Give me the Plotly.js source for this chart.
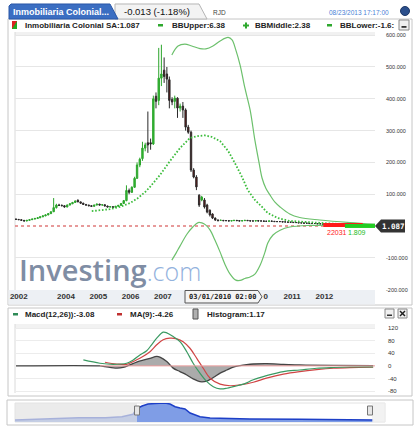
<!DOCTYPE html>
<html><head><meta charset="utf-8">
<script src="https://cdn.plot.ly/plotly-3.0.1.min.js"></script>
<style>html,body{margin:0;padding:0;background:#fff;}#chart{width:420px;height:430px;}</style>
</head><body><div id="chart"></div>
<script>
// ---------- DATA ----------
const startMonth = [2002, 6];
const open = [
 22,21,20,18,16,18,20,
 22,24,26,29,32,35,39,45,58,66,65,64,
 60,66,70,74,81,76,72,68,66,64,62,66,
 69,66,67,63,60,61,59,62,65,71,80,112,
 106,122,150,192,212,245,262,262,258,408,395,465,
 490,478,460,398,392,402,371,377,365,311,295,176,
 154,97,82,82,66,50,38,25,19,18,18,17,
 17,16,17,18,17,16,17,18,17,16,16,17,
 16,16,15,15,16,15,14,14,14,13,13,12,
 12,11,11,10,10,9,9,8,8,8,7,7,
 6,6,5,5,5,4,4,4,3,3,3,3,
 3,2,2,2,2,1.5,1.3,1.2];
const high = [
 23,22,21,19,19,21,23,
 25,27,30,33,36,40,46,88,70,70,68,65,
 68,72,76,80,84,77,73,69,67,65,67,70,
 70,68,68,64,62,62,63,66,72,82,128,118,
 125,155,200,215,265,262,360,275,410,420,560,570,
 530,500,470,405,410,405,385,390,370,318,300,182,
 160,100,95,88,70,52,40,27,21,20,19,19,
 18,18,19,19,18,18,19,19,18,17,18,18,
 17,17,16,17,16,15,15,15,14,14,13,13,
 12,12,11,11,10,10,9,9,9,8,8,7,
 7,6,6,6,5,5,5,4,4,4,4,4,
 3,3,3,2.5,2,1.8,1.5,1.3];
const low = [
 20,19,17,15,15,17,19,
 21,23,25,28,31,34,38,44,55,64,62,58,
 59,65,69,73,75,70,67,64,62,61,61,65,
 65,64,62,59,58,58,58,61,64,70,78,100,
 104,120,148,185,205,235,230,240,255,370,380,440,
 450,420,370,380,370,340,360,340,300,290,170,150,
 113,60,78,55,40,30,22,16,15,16,15,16,
 15,15,16,16,15,15,16,16,15,15,15,15,
 15,14,14,14,14,13,13,13,12,12,11,11,
 10,10,9,9,8,8,7,7,7,6,6,5,
 5,4,4,4,3,3,3,2,2,2,2,2,
 1.5,1.5,1.5,1.5,1.2,1.1,1.1,1.0];
const close = [
 21,20,18,16,18,20,22,
 24,26,29,32,35,39,45,58,66,65,64,60,
 66,70,74,79,76,72,68,66,64,62,66,69,
 66,67,63,60,61,59,62,65,71,80,112,106,
 122,150,192,210,245,255,255,258,400,392,465,478,
 470,462,395,390,402,371,377,365,311,295,176,154,
 123,66,91,60,44,35,25,19,17,18,17,17,
 16,17,18,17,16,17,18,17,16,16,17,16,
 16,15,15,16,15,14,14,14,13,13,12,12,
 11,11,10,10,9,9,8,8,8,7,7,6,
 6,5,5,5,4,4,4,3,3,3,3,3,
 2,2,2,2,1.5,1.3,1.2,1.087];

const bbMidX = ['2004-10-19','2005-01-19','2005-05-12','2005-09-02','2005-12-24','2006-03-25','2006-06-14','2006-08-08','2006-11-28','2007-03-21','2007-07-13','2007-11-03','2008-02-03','2008-04-20','2008-07-09','2008-10-09','2009-01-08','2009-03-25','2009-06-14','2009-08-18','2009-11-06','2010-01-26','2010-04-01','2010-07-24','2010-12-05','2011-05-27','2012-03-03','2013-07-27'];
const bbMid  = [47,50,53,60,72,88,107,123,160,204,245,277,283,285,280,267,236,198,154,113,82,60,41,25,16,13,8,2];

const bbUpX = ['2007-04-12','2007-06-21','2007-09-06','2007-11-24','2008-02-24','2008-05-01','2008-07-20','2008-10-09','2009-01-08','2009-02-21','2009-04-05','2009-05-23','2009-07-16','2009-09-13','2009-11-06','2009-12-24','2010-01-26','2010-03-10','2010-04-27','2010-06-21','2010-08-18','2010-12-05','2011-03-28','2011-11-10','2012-10-16','2013-07-27'];
const bbUp  = [538,566,572,566,558,557,566,582,593,585,553,506,434,365,270,198,151,119,97,75,60,38,27,19,11,6];

const bbLowX = ['2007-04-12','2007-05-30','2007-07-13','2007-10-01','2007-12-05','2008-02-03','2008-03-17','2008-05-01','2008-06-18','2008-08-11','2008-10-09','2008-12-01','2009-01-30','2009-04-05','2009-05-23','2009-07-16','2009-09-13','2009-11-06','2010-01-04','2010-02-28','2010-04-01','2010-05-30','2010-08-18','2010-12-05','2011-07-20','2013-07-27'];
const bbLow  = [-107,-85,-63,-25,-3,11,10,3,-13,-44,-82,-119,-151,-170,-171,-165,-160,-151,-123,-82,-53,-28,-13,-3,2,2];

const endRedX = ['2011-12-20','2013-03-10']; const endRedY = [3,3];
const endGreenX = ['2012-08-20','2013-07-26']; const endGreenY = [0.3,0.3];

const macdX = ['2004-07-16','2005-01-19','2005-06-18','2005-11-17','2006-01-30','2006-04-16','2006-07-02','2006-08-26','2006-10-23','2007-01-04','2007-02-14','2007-04-27','2007-07-13','2007-09-28','2007-12-09','2008-02-24','2008-05-12','2008-07-24','2008-10-09','2008-12-24','2009-03-07','2009-06-29','2009-10-19','2010-03-17','2010-09-24','2011-03-28','2011-10-05','2012-04-12','2012-10-16','2013-07-05'];
const macd  = [19,8.5,5,8.5,19,35,48,67,88,107,105,93,77,45,8.5,-23,-50,-66,-73,-71,-66,-58,-44,-31,-18,-13,-7.5,-5,-3.5,-3.08];

const maX = ['2005-03-17','2005-07-27','2005-11-17','2006-01-30','2006-04-16','2006-08-08','2006-10-23','2007-01-04','2007-03-21','2007-06-07','2007-08-18','2007-11-03','2008-01-19','2008-04-01','2008-06-18','2008-10-09','2009-01-30','2009-05-23','2009-10-19','2010-03-17','2010-09-24','2011-03-28','2011-10-05','2012-04-12','2012-10-16','2013-07-05'];
const ma9 = [11.6,6,5,14,24,45,67,83,88,86,77,56,24,-7.5,-39,-58,-63,-60,-52,-39,-26,-18,-12,-7.5,-5.4,-4.26];

const histX = ['2002-06-15','2005-01-19','2005-03-17','2005-07-27','2005-10-08','2005-12-24','2006-03-10','2006-05-23','2006-08-08','2006-10-23','2006-11-28','2007-02-14','2007-04-27','2007-07-13','2007-09-28','2007-12-09','2008-02-24','2008-05-12','2008-07-24','2008-10-09','2008-12-24','2009-03-07','2009-05-23','2009-08-04','2009-10-19','2010-03-17','2010-09-24','2011-03-28','2012-04-12','2013-07-05'];
const hist = [0,0,-2,-7,-5,3,12,18,24,30,28,14,-7,-18,-29,-41,-50,-48,-37,-23,-13,-4,1,4,6,7,5,3,1.5,1.17];

const navX = [1996.0,1997.6,1999.1,2000.4,2001.2,2001.74,2001.9,2002.18,2002.47,2002.81,2003.05,2003.3,2003.54,2003.79,2004.03,2004.27,2004.52,2004.76,2005.0,2005.49,2007.43,2009.86,2011.81,2013.42];
const navY = [2,3,4.3,4.3,5.3,7.7,13,16,18,18.5,18.7,19,18,15.3,14,13,9,7,5.3,4,3,2.7,2.3,2];

const yTicks = [-200,-100,100,200,300,400,500,600];
const yTickText = ['-200.000','-100.000','100.000','200.000','300.000','400.000','500.000','600.000'];
// the 2008-2010 labels sit under the crosshair box; only the last "0" of 2010 shows
const xTicks = ['2002-07-17','2004-01-01','2005-01-01','2006-01-01','2007-01-01','2010-03-08','2011-01-01','2012-01-01'];
const xTickText = ['2002','2004','2005','2006','2007','0','2011','2012'];
const macdTicks = [-80,-40,0,40,80,120];
const macdTickText = ['-80','-40','0','40','80','120'];

// ---------- HELPERS ----------
const W=420,H=430;
const X=p=>p/W, Y=p=>1-p/H;
const dates = close.map((_,i)=>{const m=startMonth[1]-1+i;const y=startMonth[0]+Math.floor(m/12);const mm=(m%12)+1;return y+'-'+String(mm).padStart(2,'0')+'-15';});
const F='Liberation Sans, Arial, sans-serif';
function rect(x0,y0,x1,y1,fill,line,lw,layer){return {type:'rect',xref:'paper',yref:'paper',x0:X(x0),x1:X(x1),y0:Y(y1),y1:Y(y0),fillcolor:fill||'rgba(0,0,0,0)',line:{color:line||'rgba(0,0,0,0)',width:lw===undefined?(line?1:0):lw},layer:layer||'below'};}
function path(pts,fill,line,layer){let s=pts.map((p,i)=>(i?'L':'M')+X(p[0]).toFixed(5)+','+Y(p[1]).toFixed(5)).join(' ')+' Z';return {type:'path',xref:'paper',yref:'paper',path:s,fillcolor:fill,line:{color:line||'rgba(0,0,0,0)',width:line?1:0},layer:layer||'below'};}
function seg(x0,y0,x1,y1,color,w,layer){return {type:'line',xref:'paper',yref:'paper',x0:X(x0),x1:X(x1),y0:Y(y0),y1:Y(y1),line:{color:color,width:w||1},layer:layer||'above'};}
function txt(px,py,t,size,color,opts){return Object.assign({xref:'paper',yref:'paper',x:X(px),y:Y(py),text:t,showarrow:false,xanchor:'left',yanchor:'middle',font:{family:F,size:size,color:color}},opts||{});}

// ---------- TRACES ----------
const traces = [
 {type:'scatter',mode:'lines',x:bbMidX,y:bbMid,line:{color:'#3cbc3c',width:1.8,dash:'1.6px,1.8px'},xaxis:'x',yaxis:'y',hoverinfo:'skip'},
 {type:'scatter',mode:'lines',x:bbUpX,y:bbUp,line:{color:'#6cc06c',width:1.2,shape:'spline'},xaxis:'x',yaxis:'y',hoverinfo:'skip'},
 {type:'scatter',mode:'lines',x:bbLowX,y:bbLow,line:{color:'#6cc06c',width:1.2,shape:'spline'},xaxis:'x',yaxis:'y',hoverinfo:'skip'},
 {type:'candlestick',x:dates,open:open,high:high,low:low,close:close,xaxis:'x',yaxis:'y',
  increasing:{line:{color:'#2ca52c',width:1},fillcolor:'#33bb33'},
  decreasing:{line:{color:'#2a2a2a',width:1},fillcolor:'#6e1414'},whiskerwidth:0,hoverinfo:'skip'},
 {type:'scatter',mode:'lines',x:endRedX,y:endRedY,line:{color:'#ff1a1a',width:4},xaxis:'x',yaxis:'y',hoverinfo:'skip'},
 {type:'scatter',mode:'lines',x:endGreenX,y:endGreenY,line:{color:'#22cc22',width:4},xaxis:'x',yaxis:'y',hoverinfo:'skip'},
 {type:'scatter',mode:'lines',x:histX,y:hist,fill:'tozeroy',fillcolor:'rgba(150,150,150,0.8)',line:{color:'#444',width:1.3,shape:'spline'},xaxis:'x2',yaxis:'y2',hoverinfo:'skip'},
 {type:'scatter',mode:'lines',x:maX,y:ma9,line:{color:'#d04545',width:1.2,shape:'spline'},xaxis:'x2',yaxis:'y2',hoverinfo:'skip'},
 {type:'scatter',mode:'lines',x:macdX,y:macd,line:{color:'#3a9a62',width:1.2,shape:'spline'},xaxis:'x2',yaxis:'y2',hoverinfo:'skip'},
 {type:'scatter',mode:'lines',x:navX,y:navY,fill:'tozeroy',fillcolor:'#7f9de6',line:{color:'#1d3fc7',width:1.5},xaxis:'x3',yaxis:'y3',hoverinfo:'skip'}
];

// ---------- SHAPES ----------
const shapes = [
 rect(8,19,412,305,'#ffffff','#c6c6c6',1),
 rect(15,32,375,36,'#f1f1f1'),
 rect(8.5,290,375,304.5,'#edf0f4'),
 seg(15,32,15,290,'#dadada',1,'below'),
 rect(8,308,412,396,'#ffffff','#c6c6c6',1),
 rect(15,324,375,328,'#f2f2f2'),
 seg(15,324,15,393,'#dadada',1,'below'),
 rect(7,400,413,425,'#ffffff','#c6c6c6',1),
 rect(15,403,385,422,'#ffffff','#e2e2e2',1),
 // tabs
 path([[115,19],[115,4],[199,4],[207,19]],'#f3f3f3','#b5b5b5'),
 path([[9,19],[9,6],[11,4],[110,4],[118,19]],'#3b6ec2','#2a57a6'),
 // zero lines
 {type:'line',xref:'x',yref:'y',x0:'2002-06-04',x1:'2013-07-26',y0:0,y1:0,line:{color:'#e07a7a',width:1.5,dash:'dot'},layer:'below'},
 {type:'line',xref:'x2',yref:'y2',x0:'2005-01-19',x1:'2013-07-26',y0:0,y1:0,line:{color:'#f0a0a0',width:1},layer:'above'},
 // legend icons main
 rect(12,21,17,29,'#22aa22'),
 path([[12,21],[17,21],[12,29]],'#dd2222'),
 rect(158,24,163,26.5,'#2ea82e'),
 rect(243,24.5,249,26.5,'#2ea82e'), rect(245,22.5,247,28.5,'#2ea82e'),
 rect(327,24,332,26.5,'#2ea82e'),
 rect(399,20,409,30,'#f0f0f0','#8a8a8a',1),
 rect(401.5,26,406.5,27.8,'#333'),
 // circle icon
 {type:'circle',xref:'paper',yref:'paper',x0:X(400.5),x1:X(409.5),y0:Y(15.5),y1:Y(6.5),fillcolor:'#2b4f8c',line:{color:'#1d3766',width:1},layer:'below'},
 // macd legend icons
 rect(13,313,18,315.5,'#2e8b57'),
 rect(117,313,122,315.5,'#c03030'),
 rect(193,309,198,319,'#b0b0b0','#555',1),
 rect(385,309,394,318,'#f0f0f0','#8a8a8a',1), rect(387,314.5,392,316,'#333'),
 rect(398,309,407,318,'#f0f0f0','#8a8a8a',1),
 seg(400,311,405,316,'#222',1.5,'below'), seg(405,311,400,316,'#222',1.5,'below'),
 // navigator overlays and handles
 rect(15,403,137,422,'rgba(226,226,226,0.7)',null,0,'above'),
 rect(372,403,385,422,'rgba(236,236,236,0.7)',null,0,'above'),
 rect(134.5,406,139.5,415,'#e6e6e6','#777',1,'above'),
 rect(367.5,406,372.5,415,'#e6e6e6','#777',1,'above'),
 // crosshair box and price tag
 path([[185,290.5],[258,290.5],[262,296.8],[258,303],[185,303]],'#f4f4f4','#555','above'),
 path([[375,226],[381,219.5],[405,219.5],[405,232.5],[381,232.5]],'#333333',null,'above')
];

// ---------- ANNOTATIONS ----------
const annotations = [
 txt(11,11.8,'<b>Inmobiliaria Colonial...</b>',9,'#ffffff'),
 txt(122,11.8,'-0.013 (-1.18%)',9.5,'#111'),
 txt(211,12,'RJD',6.5,'#444'),
 txt(327,12,'08/23/2013 17:17:00',6.5,'#4a7fd6'),
 txt(23,25.3,'<b>Inmobiliaria Colonial SA:1.087</b>',8,'#222'),
 txt(170,25.3,'<b>BBUpper:6.38</b>',8,'#222'),
 txt(253,25.3,'<b>BBMiddle:2.38</b>',8,'#222'),
 txt(338,25.3,'<b>BBLower:-1.6:</b>',8,'#222'),
 txt(23,314.3,'<b>Macd(12,26)):-3.08</b>',8,'#222'),
 txt(128,314.3,'<b>MA(9):-4.26</b>',8,'#222'),
 txt(205,314.3,'<b>Histogram:1.17</b>',8,'#222'),
 txt(17,269,'Investing<span style="color:#93b2dd;font-weight:300;font-size:25px">.com</span>',29,'#7f8da4',{font:{family:'Open Sans, sans-serif',size:29,color:'#7f8da4',weight:600}}),
 txt(222,297,'<b>03/01/2010 02:00</b>',7,'#222',{xanchor:'center',font:{family:'DejaVu Sans Mono, monospace',size:7,color:'#222'}}),
 txt(393,226.3,'<b>1.087</b>',7.5,'#fff',{xanchor:'center',font:{family:'DejaVu Sans Mono, monospace',size:7.5,color:'#fff'}}),
 txt(325,232,'22031',7,'#ff2222'),
 txt(346,232,'1.809',7,'#22bb22')
];

const layout = {
 width:W,height:H,margin:{l:0,r:0,t:0,b:0},paper_bgcolor:'#ffffff',plot_bgcolor:'rgba(0,0,0,0)',showlegend:false,
 xaxis:{domain:[X(15),X(375)],type:'date',range:['2002-06-04','2013-07-26'],tickmode:'array',tickvals:xTicks,ticktext:xTickText,
   tickfont:{family:F,size:8,color:'#333',weight:'bold'},showgrid:false,zeroline:false,showline:false,ticks:'',rangeslider:{visible:false},anchor:'y',fixedrange:true},
 yaxis:{domain:[Y(290),Y(32)],range:[-201,610],side:'right',tickmode:'array',tickvals:yTicks,ticktext:yTickText,
   tickfont:{family:F,size:5.5,color:'#333'},showgrid:true,gridcolor:'#e6e6e6',gridwidth:1,zeroline:false,ticks:'',anchor:'x',ticklabelstandoff:10,fixedrange:true},
 xaxis2:{domain:[X(15),X(375)],type:'date',range:['2002-06-04','2013-07-26'],showticklabels:false,showgrid:false,zeroline:false,ticks:'',anchor:'y2'},
 yaxis2:{domain:[Y(393),Y(324)],range:[-86,133],side:'right',tickmode:'array',tickvals:macdTicks,ticktext:macdTickText,
   tickfont:{family:F,size:6,color:'#333'},showgrid:true,gridcolor:'#ececec',zeroline:false,ticks:'',anchor:'x2',ticklabelstandoff:12},
 xaxis3:{domain:[X(15),X(385)],range:[1996,2014],showticklabels:false,showgrid:false,zeroline:false,ticks:'',anchor:'y3'},
 yaxis3:{domain:[Y(422),Y(403)],range:[0,19],showticklabels:false,showgrid:false,zeroline:false,ticks:'',anchor:'x3'},
 shapes:shapes,annotations:annotations,boxgap:0.2
};
Plotly.newPlot('chart',traces,layout,{staticPlot:true,displayModeBar:false});
</script></body></html>
